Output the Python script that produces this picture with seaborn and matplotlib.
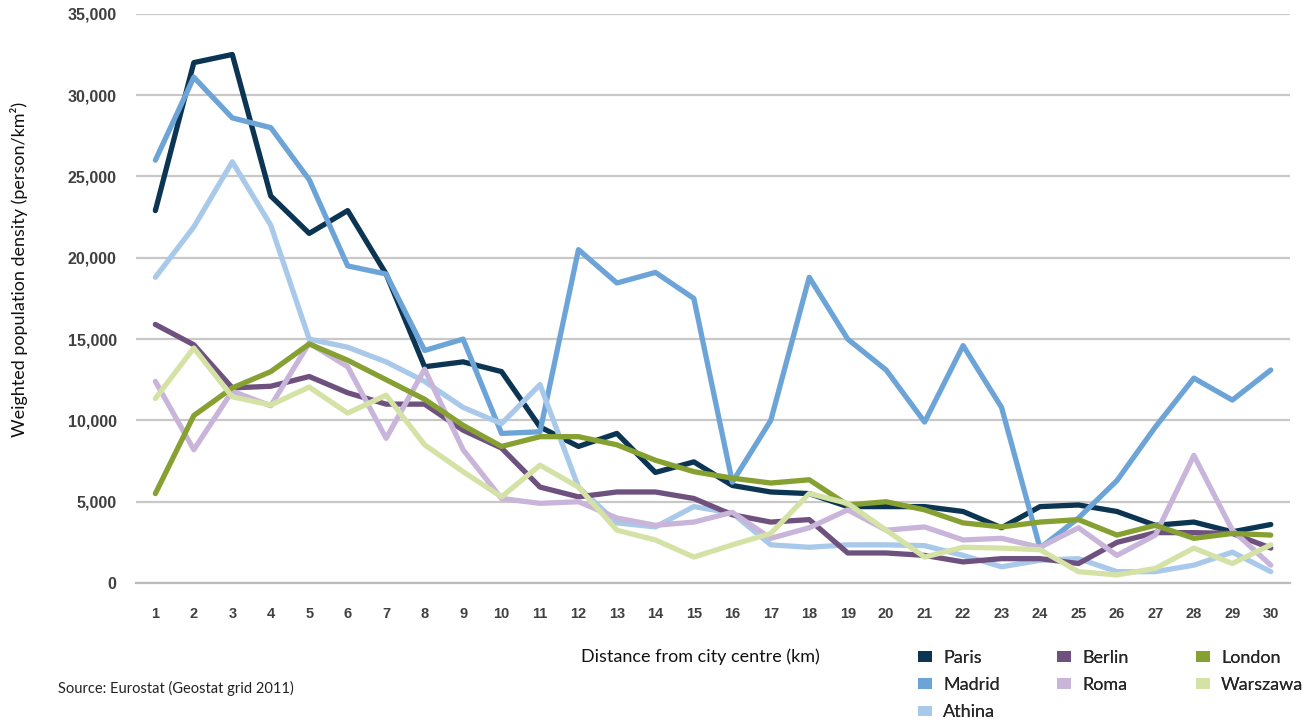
import seaborn as sns
import matplotlib.pyplot as plt
import matplotlib.ticker as mticker
from matplotlib.patches import Patch
import pandas as pd

# Distância do centro (km)
km = list(range(1, 31))

paris = [22900, 32000, 32500, 23800, 21500, 22900, 19000, 13300, 13600, 13000,
         9600, 8400, 9200, 6800, 7450, 6000, 5600, 5500, 4700, 4700,
         4700, 4400, 3400, 4700, 4800, 4400, 3550, 3750, 3150, 3600]
madrid = [26000, 31100, 28600, 28000, 24800, 19500, 19000, 14300, 15000, 9200,
          9300, 20500, 18450, 19100, 17500, 6200, 10000, 18800, 15000, 13100,
          9900, 14600, 10800, 2150, 4000, 6300, 9600, 12600, 11250, 13100]
athina = [18800, 21900, 25900, 22000, 15000, 14500, 13600, 12400, 10800, 9800,
          12200, 5900, 3700, 3450, 4700, 4300, 2350, 2200, 2350, 2350,
          2300, 1700, 1000, 1400, 1500, 700, 700, 1100, 1900, 700]
berlin = [15900, 14650, 12000, 12100, 12700, 11700, 11000, 11000, 9400, 8300,
          5900, 5300, 5600, 5600, 5200, 4200, 3750, 3900, 1850, 1850,
          1700, 1300, 1500, 1500, 1200, 2500, 3100, 3100, 3050, 2150]
roma = [12400, 8200, 11800, 10900, 14750, 13300, 8900, 13150, 8200, 5200,
        4900, 5000, 4000, 3550, 3750, 4350, 2750, 3400, 4500, 3250,
        3450, 2650, 2750, 2200, 3400, 1700, 2950, 7850, 3250, 1100]
london = [5500, 10300, 12000, 13000, 14700, 13700, 12500, 11300, 9700, 8400,
          9000, 9000, 8500, 7550, 6850, 6450, 6150, 6350, 4800, 5000,
          4500, 3700, 3450, 3750, 3900, 2950, 3550, 2750, 3050, 2950]
warszawa = [11350, 14450, 11450, 10950, 12050, 10450, 11550, 8500, 6850, 5300,
            7250, 5900, 3250, 2650, 1600, 2350, 3050, 5500, 4900, 3250,
            1600, 2200, 2150, 2050, 700, 500, 900, 2150, 1200, 2350]

cidades = ["Paris", "Madrid", "Athina", "Berlin", "Roma", "London", "Warszawa"]
cores = ["#0b3552", "#6ca4d8", "#a9c9ea", "#6e517f", "#c9b5da", "#86a032", "#d4e2a6"]
series = [paris, madrid, athina, berlin, roma, london, warszawa]

df = pd.DataFrame({
    "km": km * len(cidades),
    "densidade": [v for s in series for v in s],
    "cidade": [c for c in cidades for _ in km],
})

sns.set_style("white")
plt.rcParams["font.family"] = ["Liberation Sans", "DejaVu Sans"]

fig = plt.figure(figsize=(13.09, 7.27), dpi=100)
ax = fig.add_axes([0.104, 0.198, 0.8815, 0.783])

sns.lineplot(data=df, x="km", y="densidade", hue="cidade", hue_order=cidades,
             palette=cores, linewidth=3.8, legend=False, ax=ax, sort=False)

ax.set_xlim(0.5, 30.5)
ax.set_ylim(0, 35000)
ax.set_yticks(range(0, 35001, 5000))
ax.yaxis.set_major_formatter(mticker.FuncFormatter(lambda v, p: f"{int(v):,}"))
ax.set_xticks(km)
ax.set_xticks([k + 0.5 for k in range(0, 31)], minor=True)
ax.grid(axis="y", color="#c8c8c8", linewidth=1.6)
ax.set_axisbelow(True)

for s in ["top", "right", "left"]:
    ax.spines[s].set_visible(False)
ax.spines["bottom"].set_color("#bbbbbb")
ax.spines["bottom"].set_linewidth(1.6)

ax.tick_params(axis="x", which="major", length=0, pad=17, labelsize=10.5, labelcolor="#404040")
ax.tick_params(axis="x", which="minor", length=5, width=1.4, color="#bbbbbb")
ax.tick_params(axis="y", length=0, pad=14, labelsize=11.5, labelcolor="#404040")
for t in ax.get_xticklabels() + ax.get_yticklabels():
    t.set_fontweight("bold")

ax.set_xlabel("")
ax.set_ylabel("")

narrow = ["Lato", "DejaVu Sans"]
fig.text(0.008, 0.629, "Weighted population density (person/km²)", rotation=90,
         ha="left", va="center", fontsize=13, family=narrow, color="#111111")
fig.text(0.444, 0.097, "Distance from city centre (km)", ha="left", va="center",
         fontsize=13, family=narrow, color="#111111")
fig.text(0.044, 0.053, "Source: Eurostat (Geostat grid 2011)", ha="left", va="center",
         fontsize=10.5, family=narrow, color="#222222")

# legenda em 3 colunas com espaçamento igual
handles = [Patch(facecolor=c, edgecolor="none", label=n) for n, c in zip(cidades, cores)]
grupos = [handles[0:3], handles[3:5], handles[5:7]]
for i, g in enumerate(grupos):
    leg = fig.legend(handles=g, loc="upper left",
                     bbox_to_anchor=(0.701 + i * 0.1062, 0.106), frameon=False,
                     prop={"family": narrow, "size": 13},
                     handlelength=0.8, handleheight=0.55, handletextpad=0.6,
                     labelspacing=0.62, borderaxespad=0, borderpad=0)
    fig.add_artist(leg)

fig.savefig("out.png", dpi=100)
